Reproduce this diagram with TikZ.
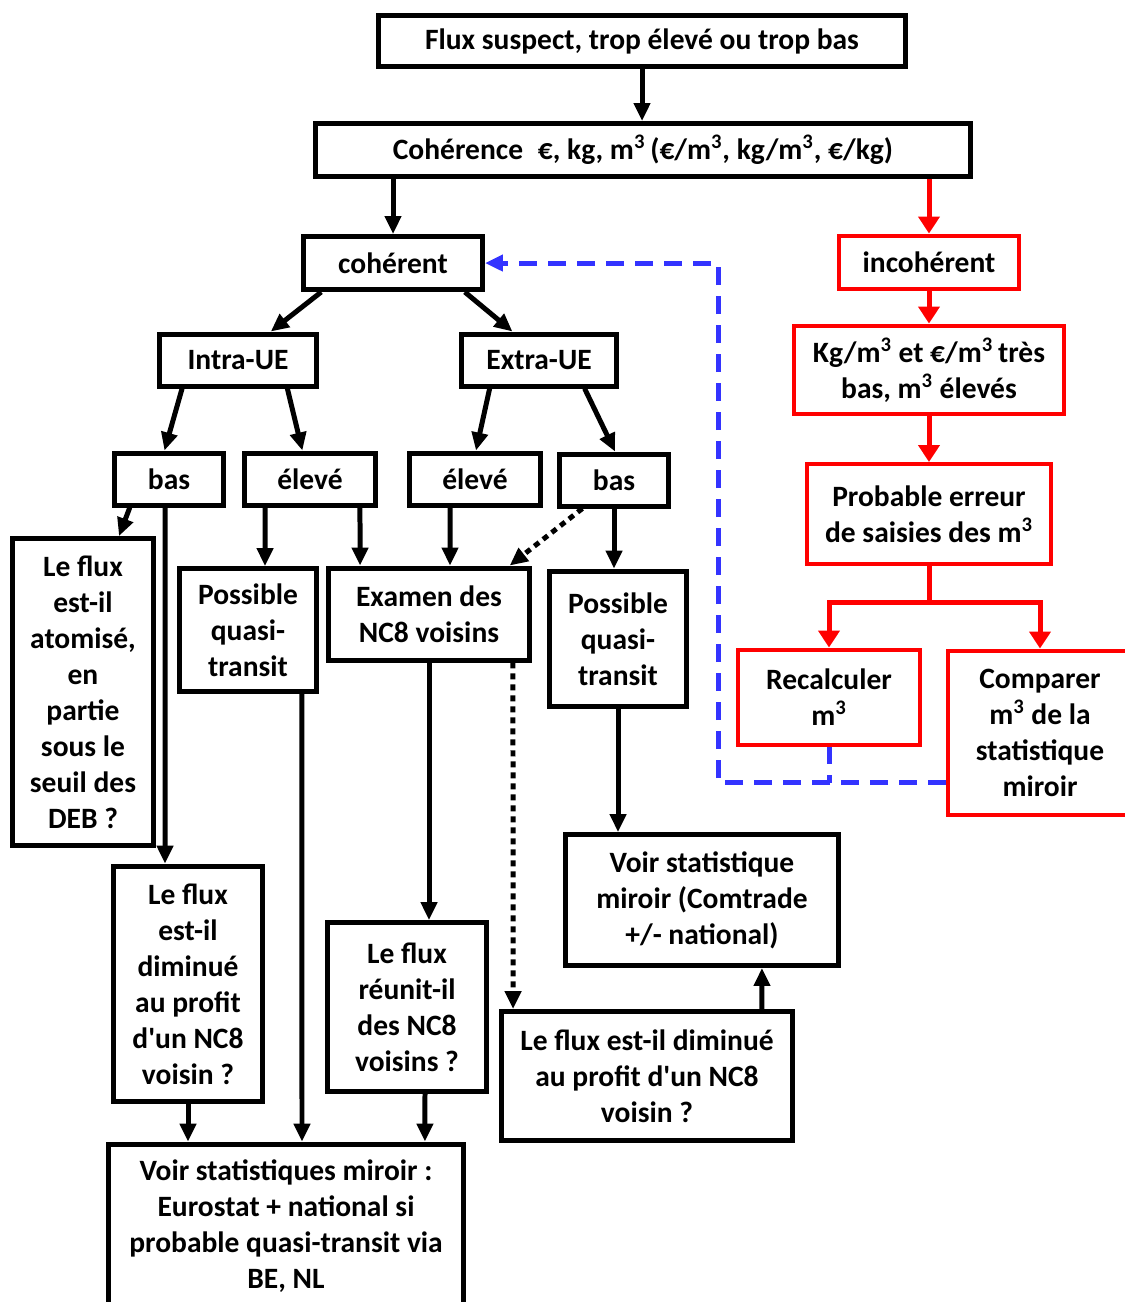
\documentclass[tikz,border=0pt]{standalone}
\usepackage{fontspec}
\newfontfamily\carlito{Carlito}
\usetikzlibrary{arrows.meta, positioning}
\definecolor{loopblue}{RGB}{51,51,255}
\def\lw{0.1cm}
\def\tx{\textsuperscript{3}}

\begin{document}
\begin{tikzpicture}[
    x=0.02cm, y=-0.02cm,
    line width=\lw,
    >={Triangle[length=0.36cm,width=0.32cm]},
    every node/.style={draw, align=center, inner sep=0pt, font=\carlito\bfseries\fontsize{16.8}{20.5}\selectfont},
    redbox/.style={draw=red, line width=0.08cm},
    arr/.style={->},
    redarr/.style={->, red, >={Triangle[length=0.34cm,width=0.42cm]}},
    dotarr/.style={->, dash pattern=on 0.12cm off 0.1cm},
    loopline/.style={loopblue, dash pattern=on 0.36cm off 0.22cm}
]
\useasboundingbox (0,0) rectangle (1125,1302);

% top of the tree
\node[minimum width=10.54cm, minimum height=1.04cm] (top) at (642,41) {Flux suspect, trop élevé ou trop bas};
\node[minimum width=13.12cm, minimum height=1.06cm] (coh) at (643,150) {Cohérence\enspace €, kg, m\tx\,(€/m\tx, kg/m\tx, €/kg)};
\node[minimum width=3.58cm, minimum height=1.06cm] (coherent) at (393,263) {cohérent};

% red branch
\node[redbox, minimum width=3.6cm, minimum height=1.06cm] (incoh) at (929,262) {incohérent};
\node[redbox, minimum width=5.4cm, minimum height=1.78cm] (kgm) at (929,370) {Kg/m\tx{} et €/m\tx{}\,très\\bas, m\tx{} élevés};
\node[redbox, minimum width=4.9cm, minimum height=2.0cm] (prob) at (929,514) {Probable erreur\\de saisies des m\tx};
\node[redbox, minimum width=3.64cm, minimum height=1.9cm] (recalc) at (829,697) {Recalculer\\m\tx};
\node[redbox, minimum width=3.68cm, minimum height=3.3cm] (comp) at (1040,733) {Comparer\\m\tx{} de la\\statistique\\miroir};

% intra / extra
\node[minimum width=3.14cm, minimum height=1.04cm] (intra) at (238,360) {Intra-UE};
\node[minimum width=3.12cm, minimum height=1.04cm] (extra) at (539,360) {Extra-UE};
\node[minimum width=2.2cm, minimum height=1.04cm] (basL) at (169,479) {bas};
\node[minimum width=2.64cm, minimum height=1.04cm] (eleveL) at (310,479) {élevé};
\node[minimum width=2.64cm, minimum height=1.04cm] (eleveR) at (475,479) {élevé};
\node[minimum width=2.2cm, minimum height=1.04cm] (basR) at (614,480) {bas};

% questions and checks
\node[minimum width=2.82cm, minimum height=6.14cm] (atom) at (83,692) {Le flux\\est-il\\atomisé,\\en\\partie\\sous le\\seuil des\\DEB ?};
\node[minimum width=2.74cm, minimum height=2.46cm] (possL) at (248,630) {Possible\\quasi-\\transit};
\node[minimum width=4.04cm, minimum height=1.84cm] (exam) at (429,614) {Examen des\\NC8 voisins};
\node[minimum width=2.74cm, minimum height=2.72cm] (possR) at (618,639) {Possible\\quasi-\\transit};
\node[minimum width=5.48cm, minimum height=2.62cm] (voirC) at (702,900) {Voir statistique\\miroir (Comtrade\\+/- national)};
\node[minimum width=2.98cm, minimum height=4.72cm] (fluxL) at (188,984) {Le flux\\est-il\\diminué\\au profit\\d'un NC8\\voisin ?};
\node[minimum width=3.18cm, minimum height=3.38cm] (reunit) at (407,1007) {Le flux\\réunit-il\\des NC8\\voisins ?};
\node[minimum width=5.84cm, minimum height=2.58cm] (fluxR) at (647,1076) {Le flux est-il diminué\\au profit d'un NC8\\voisin ?};
\node[minimum width=7.1cm, minimum height=3.28cm] (voirE) at (286,1226) {Voir statistiques miroir :\\Eurostat + national si\\probable quasi-transit via\\BE, NL};

% black arrows
\draw[arr] (top.south) -- (top.south |- coh.north);
\draw[arr] (coh.south -| coherent) -- (coherent.north);
\draw[arr] (coherent.202) -- (intra.41);
\draw[arr] (coherent.338) -- (extra.133);
\draw[arr] (intra.207) -- (basL.99);
\draw[arr] (intra.330) -- (eleveL.105);
\draw[arr] (extra.210) -- (eleveR.88);
\draw[arr] (extra.328) -- (basR.88);
\draw[arr] (basL.216) -- (atom.77);
\draw[arr] ([xshift=-0.08cm]basL.south) -- ([xshift=-0.46cm]fluxL.north);
\draw[arr] ([xshift=-0.9cm]eleveL.south) -- ([xshift=0.34cm]possL.north);
\draw[arr] ([xshift=1.0cm]eleveL.south) -- ([xshift=-1.38cm]exam.north);
\draw[arr] ([xshift=-0.5cm]eleveR.south) -- ([xshift=0.42cm]exam.north);
\draw[dotarr] (basR.222) -- (exam.31);
\draw[arr] (basR.south) -- (basR.south |- possR.north);
\draw[arr] ([xshift=1.08cm]possL.south) -- ([xshift=0.32cm]voirE.north);
\draw[arr] (exam.south) -- (exam.south |- reunit.north);
\draw[dotarr] ([xshift=1.68cm]exam.south) -- ([xshift=-2.68cm]fluxR.north);
\draw[arr] (possR.south) -- (possR.south |- voirC.north);
\draw[arr] ([xshift=2.3cm]fluxR.north) -- ([xshift=1.2cm]voirC.south);
\draw[arr] (fluxL.south) -- (fluxL.south |- voirE.north);
\draw[arr] ([xshift=0.36cm]reunit.south) -- ([xshift=2.78cm]voirE.north);

% red arrows
\draw[redarr] (coh.south -| incoh) -- (incoh.north);
\draw[redarr] (incoh) -- (kgm);
\draw[redarr] (kgm) -- (prob);
\coordinate (split) at ([yshift=-0.74cm]prob.south);
\draw[red] (prob.south) -- (split);
\draw[redarr] (split) -| (recalc.north);
\draw[redarr] (split) -| (comp.north);

% blue loop back to coherent
\coordinate (fb) at ([yshift=-0.74cm]recalc.south);
\coordinate (fbl) at (718,782);
\draw[loopline] (recalc.south) -- (fb);
\draw[loopline, ->] (comp.west |- fbl) -- (fbl) |- (coherent.east);
\end{tikzpicture}
\end{document}
